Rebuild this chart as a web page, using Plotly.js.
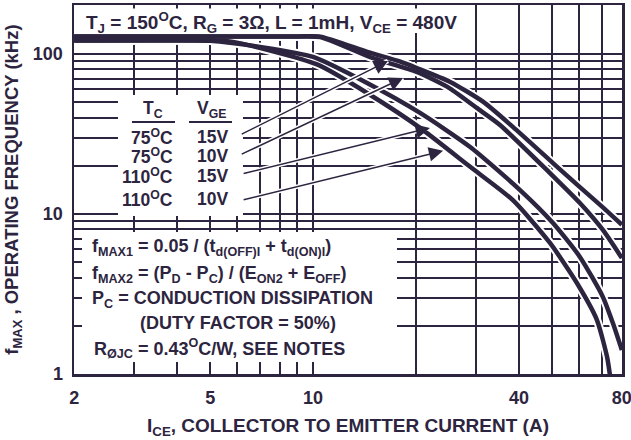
<!DOCTYPE html>
<html>
<head>
<meta charset="utf-8">
<script src="https://cdn.plot.ly/plotly-3.0.1.min.js"></script>
<style>
html,body{margin:0;padding:0;background:#ffffff;}
#chart{width:631px;height:440px;}
</style>
</head>
<body>
<div id="chart"></div>
<script>
// ---------------- DATA ----------------
const seriesNames = ['75°C 15V', '75°C 10V', '110°C 15V', '110°C 10V'];

const ic75c15v = [2, 9, 10.5, 14.4, 18, 20.1, 25.1, 31.4, 38.4, 50.3, 60.3, 70.4, 80];
const f75c15v  = [128.6, 128.6, 128.3, 103, 89.5, 81.7, 67.1, 50.3, 35, 20.8, 14.7, 11.0, 8.56];

const ic75c10v = [2, 9, 10.5, 14.7, 20.1, 25.1, 30.1, 35.2, 49.3, 60.3, 70.4, 80];
const f75c10v  = [128.6, 128.6, 127.5, 95.5, 77.2, 61, 46, 36, 18, 11.7, 7.94, 5.3];

const ic110c15v = [2, 4.4, 5, 7, 10, 14.2, 20.55, 28.8, 40.3, 50.3, 60.3, 70.4, 75.3, 80];
const f110c15v  = [121.4, 121.4, 121, 110.6, 95.8, 66.8, 42.8, 26.2, 14.1, 8.78, 5.39, 3.03, 2.08, 1.41];

const ic110c10v = [2, 5, 5.83, 10.27, 14.7, 20.55, 28.8, 38.4, 49.3, 59.1, 67.6, 72.4, 73.8];
const f110c10v  = [121.4, 121.4, 119, 86, 55.4, 34.5, 19.7, 12.2, 6.59, 3.70, 2.18, 1.28, 0.99];

// labelled ticks and unlabelled (minor) grid positions
const xTickVals  = [2, 5, 10, 40, 80];
const xTickText  = ['2', '5', '10', '40', '80'];
const xMinorVals = [3, 4, 6, 7, 8, 9, 20, 30, 50, 60, 70];
const yTickVals  = [1, 10, 100];
const yTickText  = ['1', '10', '100'];
const yMinorVals = [2, 3, 4, 5, 6, 7, 8, 9, 20, 30, 40, 50, 60, 70, 80, 90];

// table rows: case temperature and gate voltage
const tableTc  = ['75<sup>O</sup>C', '75<sup>O</sup>C', '110<sup>O</sup>C', '110<sup>O</sup>C'];
const tableVge = ['15V', '10V', '15V', '10V'];

// arrow tails (at table rows) and tips (at curves), data units
const arrowTailX = [6.12, 6.12, 6.2, 6.2];
const arrowTailY = [31.2, 23.4, 17.8, 12.2];
const arrowTipX  = [16.56, 18.33, 21.96, 24.0];
const arrowTipY  = [90.4, 70.8, 34.5, 24.8];

// ---------------- STYLE ----------------
const INK = '#2d2540';
const FAM = '"Liberation Sans", Arial, Helvetica, sans-serif';
const L = Math.log10;

const seriesX = [ic75c15v, ic75c10v, ic110c15v, ic110c10v];
const seriesY = [f75c15v, f75c10v, f110c15v, f110c10v];

const traces = [];
// white halos first
for (let i = 0; i < 4; i++) {
  traces.push({
    x: seriesX[i], y: seriesY[i], type: 'scatter', mode: 'lines',
    line: {color: '#ffffff', width: 8.5, shape: 'spline', smoothing: 0.6},
    hoverinfo: 'skip', showlegend: false
  });
}
for (let i = 0; i < 4; i++) {
  traces.push({
    x: seriesX[i], y: seriesY[i], type: 'scatter', mode: 'lines',
    name: seriesNames[i],
    line: {color: INK, width: 4.5, shape: 'spline', smoothing: 0.6},
    showlegend: false
  });
}

function boxShape(x0, x1, y0, y1) {
  return {type: 'rect', xref: 'x domain', yref: 'y domain', x0: x0, x1: x1, y0: y0, y1: y1,
          fillcolor: '#ffffff', line: {width: 0}, layer: 'above'};
}
function lineShape(x0, x1, y) {
  return {type: 'line', xref: 'x domain', yref: 'y domain', x0: x0, x1: x1, y0: y, y1: y,
          line: {color: INK, width: 2}, layer: 'above'};
}

const shapes = [
  boxShape(0.0036, 0.7226, 0.9241, 0.9905),   // conditions box
  boxShape(0.0803, 0.3084, 0.4282, 0.7561),   // table box
  boxShape(0.0146, 0.5894, 0.0325, 0.3848),   // formula box
  lineShape(0.1058, 0.1843, 0.6829),
  lineShape(0.2099, 0.2883, 0.6829)
];

const txtFont = {family: FAM, size: 17.5, color: INK, weight: 'bold'};
function textAnn(text, x, y, xanchor, size) {
  const f = Object.assign({}, txtFont);
  if (size) f.size = size;
  return {text: text, xref: 'x domain', yref: 'y domain', x: x, y: y,
          xanchor: xanchor, yanchor: 'middle', showarrow: false, font: f, align: 'left'};
}

const annotations = [];
annotations.push(textAnn('T<sub>J</sub> = 150<sup>O</sup>C, R<sub>G</sub> = 3Ω, L = 1mH, V<sub>CE</sub> = 480V', 0.0183, 0.952, 'left', 19));
annotations.push(textAnn('T<sub>C</sub>', 0.1442, 0.718, 'center'));
annotations.push(textAnn('V<sub>GE</sub>', 0.2500, 0.718, 'center'));
const rowY = [0.643, 0.591, 0.537, 0.475];
for (let i = 0; i < 4; i++) {
  annotations.push(textAnn(tableTc[i], 0.1843, rowY[i], 'right'));
  annotations.push(textAnn(tableVge[i], 0.2847, rowY[i], 'right'));
}
annotations.push(textAnn('f<sub>MAX1</sub> = 0.05 / (t<sub>d(OFF)I</sub> + t<sub>d(ON)I</sub>)', 0.0292, 0.343, 'left', 18));
annotations.push(textAnn('f<sub>MAX2</sub> = (P<sub>D</sub> - P<sub>C</sub>) / (E<sub>ON2</sub> + E<sub>OFF</sub>)', 0.0292, 0.270, 'left', 18));
annotations.push(textAnn('P<sub>C</sub> = CONDUCTION DISSIPATION', 0.0292, 0.203, 'left', 18));
annotations.push(textAnn('(DUTY FACTOR = 50%)', 0.1168, 0.139, 'left', 18));
annotations.push(textAnn('R<sub>ØJC</sub> = 0.43<sup>O</sup>C/W, SEE NOTES', 0.0328, 0.068, 'left', 18));

// arrows: white halo, then dark arrow
for (let i = 0; i < 4; i++) {
  annotations.push({text: '', xref: 'x', yref: 'y', axref: 'x', ayref: 'y',
    x: L(arrowTipX[i]), y: L(arrowTipY[i]), ax: L(arrowTailX[i]), ay: L(arrowTailY[i]),
    showarrow: true, arrowhead: 0, arrowwidth: 4.5, arrowcolor: '#ffffff'});
}
for (let i = 0; i < 4; i++) {
  annotations.push({text: '', xref: 'x', yref: 'y', axref: 'x', ayref: 'y',
    x: L(arrowTipX[i]), y: L(arrowTipY[i]), ax: L(arrowTailX[i]), ay: L(arrowTailY[i]),
    showarrow: true, arrowhead: 2, arrowsize: 1.9, arrowwidth: 1.5, arrowcolor: INK});
}

const axisCommon = {
  type: 'log', ticks: '', showgrid: true, gridcolor: INK, gridwidth: 2,
  showline: true, linecolor: INK, linewidth: 2.5, mirror: true, zeroline: false,
  tickfont: {family: FAM, size: 18, color: INK, weight: 'bold'}, fixedrange: true,
  ticklabeloverflow: 'allow'
};

const layout = {
  width: 631, height: 440,
  margin: {l: 74, r: 9, t: 5, b: 66, pad: 0},
  paper_bgcolor: '#ffffff', plot_bgcolor: '#ffffff',
  showlegend: false,
  font: {family: FAM, size: 17, color: INK, weight: 'bold'},
  xaxis: Object.assign({}, axisCommon, {
    range: [L(2) - 0.0004, L(80) + 0.0004], tickmode: 'array', tickvals: xTickVals, ticktext: xTickText,
    minor: {tickmode: 'array', tickvals: xMinorVals, showgrid: true, gridcolor: INK, gridwidth: 2, ticks: ''},
    ticklabelstandoff: 6,
    title: {text: 'I<sub>CE</sub>, COLLECTOR TO EMITTER CURRENT (A)', font: {family: FAM, size: 19, color: INK, weight: 'bold'}, standoff: 12}
  }),
  yaxis: Object.assign({}, axisCommon, {
    range: [-0.0004, 2.306], tickmode: 'array', tickvals: yTickVals, ticktext: yTickText,
    minor: {tickmode: 'array', tickvals: yMinorVals, showgrid: true, gridcolor: INK, gridwidth: 2, ticks: ''},
    ticklabelstandoff: 5,
    title: {text: 'f<sub>MAX</sub> , OPERATING FREQUENCY (kHz)', font: {family: FAM, size: 18.5, color: INK, weight: 'bold'}, standoff: 10}
  }),
  shapes: shapes,
  annotations: annotations
};

Plotly.newPlot('chart', traces, layout, {displayModeBar: false, staticPlot: true});
</script>
</body>
</html>
